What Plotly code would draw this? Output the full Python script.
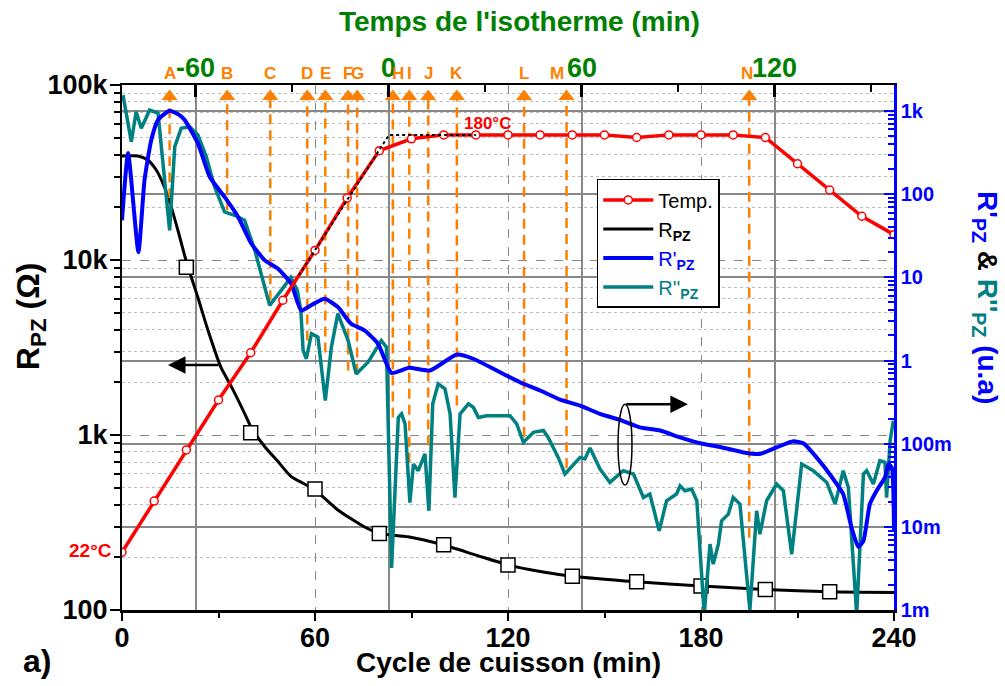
import plotly.graph_objects as go

FONT = "Liberation Sans, Arial, sans-serif"
RED = "#FF0000"
BLUE = "#0000FF"
TEAL = "#008080"
ORANGE = "#FF8000"
GREEN = "#008000"

# ---------------- data ----------------
# Temperature (°C) vs cycle time (min)
temp_t = [0, 10, 20, 30, 40, 50, 60, 70, 80, 90, 100, 110, 120, 130, 140, 150, 160, 170, 180, 190, 200, 210, 220, 230, 240]
temp_T = [22, 41.5, 61, 80, 98, 118, 137, 157, 175, 179.5, 181, 181, 181, 181, 181, 181, 180, 181, 181, 181, 180, 170, 160, 150, 143]

# set-point (dotted black)
setp_t = [55, 83, 110]
setp_T = [127.5, 181, 181]

# R_PZ (Ohm)
rpz_t = [0, 5, 8, 10.5, 12.5, 15, 17.5, 20, 23.6, 26.7, 30.7, 34, 38.1, 40.2, 44.4, 48.5, 52.6, 56.3, 60,
         67.1, 75.3, 80, 88.9, 100, 110, 120, 130, 140, 160, 180, 200, 220, 240]
rpz_v = [39300, 39300, 37300, 33000, 28000, 21000, 14500, 9800, 6100, 3980, 2450, 1890, 1330, 1100, 857, 705, 578, 530, 485,
         373, 299, 274, 262, 235, 206, 181, 166, 156, 145, 137, 131, 127, 126]
sq_t = [20, 40, 60, 80, 100, 120, 140, 160, 180, 200, 220]
sq_v = [9100, 1030, 491, 274, 236, 181, 156, 145, 137, 131, 127]

# R'_PZ (u.a)
r1_t = [0, 1.9, 5.1, 7.0, 9.1, 11.2, 14.8, 17.9, 19.5, 23.6, 27.3, 31.9, 36.1, 40.2, 44.4, 48.5, 52.6, 55.7, 59.5,
        63.0, 67.1, 71.2, 75.4, 79.6, 83.8, 89.2, 95.8, 104.1, 109.2, 117.5, 123.7, 130, 136.2, 142.4, 148.6, 154.8,
        161, 167.3, 173.5, 179.7, 185.9, 193.2, 198.3, 203.5, 208.7, 211.8, 215.9, 221.1, 224.2, 226.8, 228.9, 230.5,
        232.5, 234.6, 237.2, 238.3, 239.3, 240]
r1_v = [48.6, 312, 20, 148, 448, 780, 1009, 895, 780, 408, 161, 92.7, 53.3, 25.5, 16.0, 12.7, 8.39, 4.0, 4.8,
        5.53, 4.39, 2.77, 2.30, 1.59, 0.708, 0.817, 0.759, 1.18, 1.05, 0.723, 0.548, 0.436, 0.339, 0.287, 0.228, 0.193,
        0.157, 0.144, 0.119, 0.101, 0.0912, 0.0785, 0.0752, 0.0902, 0.1067, 0.101, 0.0684, 0.0376, 0.0248, 0.0098, 0.00574, 0.00678,
        0.0188, 0.0272, 0.0393, 0.0569, 0.0518, 0.009]

# R''_PZ (u.a)
r2_t = [0.3, 2.9, 4.4, 6.0, 8.6, 11.2, 14.8, 16.4, 18.4, 21.0, 23.6, 26.2, 28.8, 31.9, 35.0, 38.1, 41.3, 44.4, 45.9,
        49.5, 52.5, 54.5, 55.6, 56.3, 57.3, 58.9, 60.9, 63.2, 65.1, 67.1, 70.3, 72.8, 76.5, 80.6, 82.2, 83.8, 85.9, 86.9,
        88.0, 89.5, 90.6, 92.1, 94.2, 95.4, 96.6, 98.3, 100.4, 102.0, 103.5, 105.1, 107.7, 109.2, 110.8, 113.4, 120.6,
        122.7, 124.8, 127.9, 131.0, 132.5, 134.1, 135.6, 137.7, 142.4, 143.9, 145.5, 148.6, 151.7, 155.8, 159.0, 162.1,
        164.1, 167.0, 169.3, 172.4, 173.5, 175.0, 177.1, 178.7, 181.0, 182.8, 183.8, 185.4, 186.4, 188.5, 190.0, 192.1,
        195.2, 197.3, 198.3, 200.4, 203.5, 205.6, 208.2, 211.3, 212.9, 214.9, 219.1, 221.7, 224.2, 225.8, 228.4, 230.5,
        231.5, 233.6, 235.6, 237.2, 237.7, 238.8, 239.8]
r2_v = [1560, 427, 982, 619, 1028, 938, 36.8, 372, 619, 647, 514, 281, 122, 61.2, 55.8, 48.6, 21.1, 7.64, 4.6,
        6.97, 10.0, 7.0, 4.0, 1.32, 1.05, 2.10, 1.91, 0.33, 1.45, 3.66, 1.74, 0.69, 0.955, 1.74, 1.45, 0.0032, 0.207, 0.228,
        0.173, 0.0196, 0.0569, 0.0473, 0.0752, 0.0156, 0.301, 0.524, 0.456, 0.228, 0.0225, 0.228, 0.301, 0.274, 0.207, 0.217, 0.217,
        0.173, 0.104, 0.137, 0.144, 0.119, 0.0902, 0.0684, 0.0432, 0.0684, 0.0655, 0.0887, 0.0495, 0.0342, 0.0473, 0.0432, 0.0225,
        0.0248, 0.00895, 0.0206, 0.0248, 0.0312, 0.0272, 0.0284, 0.0206, 0.00089, 0.0062, 0.00356, 0.0062, 0.0118, 0.0142, 0.0225, 0.0188,
        0.001, 0.0156, 0.00817, 0.0206, 0.0327, 0.0272, 0.00469, 0.0569, 0.0519, 0.0473, 0.0342, 0.0188, 0.0473, 0.0298, 0.00089, 0.0432,
        0.0473, 0.0327, 0.0624, 0.0596, 0.0225, 0.109, 0.189]

# event markers (orange arrows)
arrow_labels = ["A", "B", "C", "D", "E", "F", "G", "H", "I", "J", "K", "L", "M", "N"]
arrow_x = [14.8, 32.7, 46.1, 57.6, 63.2, 70.3, 73.1, 84.2, 89.3, 95.2, 104.1, 125, 138.2, 195]
arrow_base = [36.8, 64, 5.3, 1.74, 1.25, 0.76, 0.70, 0.206, 0.059, 0.095, 0.287, 0.121, 0.051, 0.0074]
label_shift = {"H": 5, "M": -10, "N": -2}

# axes ticks
bottom_ticks = [0, 60, 120, 180, 240]
top_ticks = [-60, 0, 60, 120]
top_text = ["-60", "0", "60", "120"]
left_ticks = [100, 1000, 10000, 100000]
left_text = ["100", "1k", "10k", "100k"]
right_ticks = [0.001, 0.01, 0.1, 1, 10, 100, 1000]
right_text = ["1m", "10m", "100m", "1", "10", "100", "1k"]

ARROW_TOP = 1500   # in right-axis units (just below plot top)

left_minor = [m * 10 ** e for e in range(2, 5) for m in range(2, 10)]
right_minor = [m * 10 ** e for e in range(-3, 4) for m in range(2, 10)]

fig = go.Figure()

# orange dashed arrows
for lab, xv, b in zip(arrow_labels, arrow_x, arrow_base):
    fig.add_trace(go.Scatter(x=[xv, xv], y=[b, ARROW_TOP], mode="lines",
                             line=dict(color=ORANGE, width=2.5, dash="10px,6px"),
                             xaxis="x", yaxis="y2", showlegend=False, hoverinfo="skip"))
fig.add_trace(go.Scatter(x=arrow_x, y=[ARROW_TOP] * len(arrow_x), mode="markers",
                         marker=dict(symbol="triangle-up", size=14, color=ORANGE),
                         xaxis="x", yaxis="y2", showlegend=False, hoverinfo="skip"))

# R_PZ
fig.add_trace(go.Scatter(x=rpz_t, y=rpz_v, mode="lines", name="R<sub><b>PZ</b></sub>",
                         line=dict(color="black", width=3, shape="spline", smoothing=0.6),
                         xaxis="x", yaxis="y", legendrank=2))
fig.add_trace(go.Scatter(x=sq_t, y=sq_v, mode="markers", showlegend=False,
                         marker=dict(symbol="square", size=14, color="white",
                                     line=dict(color="black", width=1.5)),
                         xaxis="x", yaxis="y"))
# dummy trace for top axis
fig.add_trace(go.Scatter(x=[-83, 157], y=[None, None], mode="lines", xaxis="x2", yaxis="y",
                         showlegend=False, hoverinfo="skip"))

# R''_PZ
fig.add_trace(go.Scatter(x=r2_t, y=r2_v, mode="lines",
                         name="<span style='color:#008080'>R''<sub><b>PZ</b></sub></span>",
                         line=dict(color=TEAL, width=3.5), xaxis="x", yaxis="y2", legendrank=4))
# R'_PZ
fig.add_trace(go.Scatter(x=r1_t, y=r1_v, mode="lines",
                         name="<span style='color:#0000FF'>R'<sub><b>PZ</b></sub></span>",
                         line=dict(color=BLUE, width=4, shape="spline", smoothing=0.5),
                         xaxis="x", yaxis="y2", legendrank=3))
# temperature
fig.add_trace(go.Scatter(x=temp_t, y=temp_T, mode="lines+markers", name="Temp.",
                         line=dict(color=RED, width=3.5),
                         marker=dict(symbol="circle", size=8, color="white", line=dict(color=RED, width=1.5)),
                         xaxis="x", yaxis="y3", legendrank=1))
fig.add_trace(go.Scatter(x=setp_t, y=setp_T, mode="lines", showlegend=False,
                         line=dict(color="black", width=2, dash="dot"),
                         xaxis="x", yaxis="y3", hoverinfo="skip"))

tf = lambda size, color: dict(size=size, color=color, family=FONT, weight="bold")

fig.update_layout(
    width=1005, height=686, autosize=False,
    margin=dict(l=122, r=111, t=85, b=76),
    paper_bgcolor="white", plot_bgcolor="white",
    font=dict(family=FONT, color="black"),
    xaxis=dict(range=[0, 240], tickvals=bottom_ticks, ticks="outside", ticklen=8, tickwidth=2,
               tickcolor="black", showline=True, linecolor="black", linewidth=2.5,
               showgrid=True, gridcolor="#888888", griddash="dash", gridwidth=1, zeroline=False,
               tickfont=tf(27, "black"), anchor="y", ticklabelstandoff=-6,
               minor=dict(tickvals=[30, 90, 150, 210], ticks="outside", ticklen=5, tickwidth=2,
                          tickcolor="black", showgrid=False)),
    xaxis2=dict(overlaying="x", side="top", anchor="y", range=[-83, 157], tickvals=top_ticks,
                ticks="inside", ticklen=12, tickwidth=2.5, tickcolor="black", showline=True,
                linecolor="black", linewidth=2, showgrid=True, gridcolor="#888888", gridwidth=1.5,
                zeroline=False, showticklabels=False,
                minor=dict(tickvals=[-30, 30, 90, 150], ticks="inside", ticklen=7, tickwidth=2,
                           tickcolor="black", showgrid=False)),
    yaxis=dict(type="log", range=[2, 5], tickvals=left_ticks, ticktext=left_text, ticks="outside",
               ticklen=10, tickwidth=2, tickcolor="black", showline=True, linecolor="black", linewidth=2,
               showgrid=True, gridcolor="#888888", griddash="dash", gridwidth=1, zeroline=False,
               tickfont=tf(27, "black"), anchor="x", ticklabelstandoff=-3,
               minor=dict(tickvals=left_minor, ticks="outside", ticklen=6, tickwidth=1.5, tickcolor="black",
                          showgrid=True, gridcolor="#BBBBBB", griddash="dot", gridwidth=1)),
    yaxis2=dict(type="log", overlaying="y", side="right", anchor="x", range=[-3, 3.313],
                tickvals=right_ticks, ticktext=right_text, ticks="inside", ticklen=10, tickwidth=2,
                tickcolor=BLUE, showline=True, linecolor=BLUE, linewidth=2.5, showgrid=True,
                gridcolor="#888888", gridwidth=1.5, zeroline=False, tickfont=tf(20, BLUE),
                minor=dict(tickvals=right_minor, ticks="inside", ticklen=6, tickwidth=1.5,
                           tickcolor=BLUE, showgrid=False)),
    yaxis3=dict(overlaying="y", anchor="x", range=[0, 200], visible=False),
    legend=dict(x=0.615, y=0.821, xanchor="left", yanchor="top", bordercolor="black", borderwidth=1.5,
                bgcolor="white", font=dict(size=20, family=FONT, color="black"), tracegroupgap=0,
                itemwidth=50),
    showlegend=True,
)


def txt(x, y, text, font, xref="paper", yref="paper", **kw):
    d = dict(x=x, y=y, xref=xref, yref=yref, text=text, showarrow=False, font=font,
             xanchor="center", yanchor="middle")
    d.update(kw)
    return d


ann = []
# top axis tick labels
for v, s in zip(top_ticks, top_text):
    ann.append(txt(v, 1.0324, s, tf(27, GREEN), xref="x2"))
# orange labels
for lab, xv in zip(arrow_labels, arrow_x):
    ann.append(txt(xv, 1.021, lab, tf(17, ORANGE), xref="x", xshift=label_shift.get(lab, 0)))
# titles
ann.append(txt(0.5155, 1.12, "Temps de l'isotherme (min)", tf(28, GREEN)))
ann.append(txt(0.501, -0.1, "Cycle de cuisson (min)", tf(28, "black")))
ann.append(txt(-0.119, 0.56, "R<sub>PZ</sub> (Ω)", tf(32, "black"), textangle=-90))
ann.append(txt(1.1192, 0.596,
               "<span style='color:#0000FF'>R'<sub>PZ</sub></span> <span style='color:black'>&</span> "
               "<span style='color:#008080'>R''<sub>PZ</sub></span> <span style='color:#0000FF'>(u.a)</span>",
               tf(28, BLUE), textangle=90))
ann.append(txt(-0.11, -0.097, "a)", tf(32, "black")))
ann.append(txt(-0.0405, 0.114, "22°C", tf(19, RED)))
ann.append(txt(0.4734, 0.926, "180°C", tf(17, RED)))
# black arrows
ann.append(dict(x=0.0596, y=0.4667, xref="paper", yref="paper", ax=52, ay=0, axref="pixel", ayref="pixel",
                text="", showarrow=True, arrowhead=2, arrowsize=1.4, arrowwidth=2.5, arrowcolor="black"))
ann.append(dict(x=0.733, y=0.392, xref="paper", yref="paper", ax=-63, ay=0, axref="pixel", ayref="pixel",
                text="", showarrow=True, arrowhead=2, arrowsize=1.4, arrowwidth=2.5, arrowcolor="black"))
fig.update_layout(annotations=ann)

fig.add_shape(type="circle", xref="paper", yref="paper", x0=0.6425, x1=0.6606, y0=0.238, y1=0.392,
              line=dict(color="black", width=1.5))

fig.write_html("out.html", config={"displayModeBar": False},
               post_script="document.body.style.margin='0';document.body.style.overflow='hidden';")
